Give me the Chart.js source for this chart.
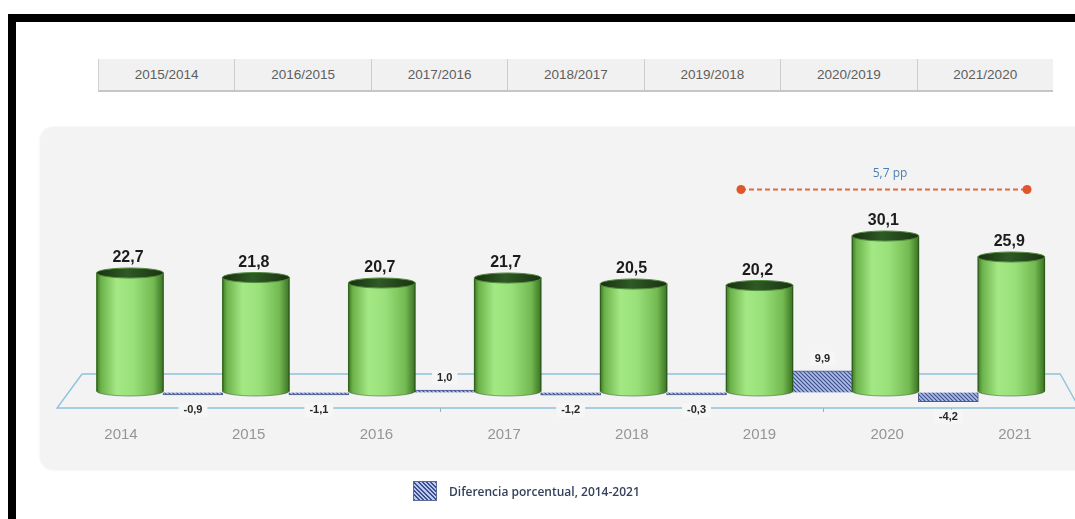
<!DOCTYPE html>
<html><head><meta charset="utf-8">
<script src="https://cdn.jsdelivr.net/npm/chart.js@4.4.1/dist/chart.umd.min.js"></script>
<style>
html,body{margin:0;padding:0;width:1075px;height:519px;overflow:hidden;background:#fff;font-family:"Liberation Sans",Arial,sans-serif;}
#frameTop{position:absolute;left:8px;top:14px;width:1067px;height:8px;background:#000;}
#frameLeft{position:absolute;left:8px;top:14px;width:8px;height:505px;background:#000;}
#hdr{position:absolute;left:98px;top:59px;width:954px;height:31px;display:flex;background:#f1f1f1;border-bottom:2px solid #c6c6c6;border-left:1px solid #d2d2d2;}
.cell{flex:1;text-align:center;line-height:31px;font-size:13.5px;color:#5e5e5e;border-right:1px solid #cdcdcd;}
.cell:last-child{border-right:none;}
#panel{position:absolute;left:40px;top:127px;width:1100px;height:343px;background:#f3f3f3;border-radius:14px;box-shadow:0 0 3px rgba(0,0,0,0.07);}
#cv{position:absolute;left:0;top:0;}
#legend{position:absolute;left:413px;top:481px;height:20px;display:flex;align-items:center;}
#sw{width:22px;height:18px;border:1px solid #5d6a98;background:repeating-linear-gradient(45deg,#3e4f8c 0 1.4px,#b9c8ee 1.4px 3px);}
#lt{margin-left:12px;font-family:"Open Sans",sans-serif;font-size:12px;font-weight:600;color:#34405c;}
</style></head>
<body>
<div id="frameTop"></div><div id="frameLeft"></div>
<div id="hdr"></div>
<div id="panel"></div>
<canvas id="cv" width="1075" height="519"></canvas>
<div id="legend"><div id="sw"></div><div id="lt"></div></div>
<script>
const years = ['2014','2015','2016','2017','2018','2019','2020','2021'];
const values = [22.7,21.8,20.7,21.7,20.5,20.2,30.1,25.9];
const periods = ['2015/2014','2016/2015','2017/2016','2018/2017','2019/2018','2020/2019','2021/2020'];
const diffs = [-0.9,-1.1,1.0,-1.2,-0.3,9.9,-4.2];
const legendLabel = 'Diferencia porcentual, 2014-2021';
const ppLabel = '5,7 pp';
const ppLineX = [4.853, 7.125];
const ppLineY = [39.4, 39.4];
const ppLabelPos = [6.037, 42.6];

const hdr = document.getElementById('hdr');
periods.forEach(p => { const d = document.createElement('div'); d.className = 'cell'; d.textContent = p; hdr.appendChild(d); });
document.getElementById('lt').textContent = legendLabel;

const fmt = v => v.toFixed(1).replace('.', ',');

function hatch() {
  const c = document.createElement('canvas'); c.width = 4; c.height = 4;
  const g = c.getContext('2d');
  g.fillStyle = '#aebfe8'; g.fillRect(0,0,4,4);
  g.strokeStyle = '#3d4e8b'; g.lineWidth = 1.2;
  g.beginPath(); g.moveTo(-1,-1); g.lineTo(5,5); g.moveTo(3,-1); g.lineTo(5,1); g.moveTo(-1,3); g.lineTo(1,5); g.stroke();
  return g.createPattern(c, 'repeat');
}
const ctx0 = document.getElementById('cv').getContext('2d');
const hatchPattern = hatch();

function bodyGradient(ctx, x, w) {
  const g = ctx.createLinearGradient(x - w/2, 0, x + w/2, 0);
  g.addColorStop(0, '#3f7a26');
  g.addColorStop(0.07, '#6db34b');
  g.addColorStop(0.3, '#a3e884');
  g.addColorStop(0.55, '#9ae07a');
  g.addColorStop(0.85, '#74ba52');
  g.addColorStop(1, '#3a7222');
  return g;
}
const CYL_W = 67;

const cylinderPlugin = {
  id: 'cyl',
  beforeDatasetsDraw(chart) {
    const c = chart.ctx, xs = chart.scales.x, x2 = chart.scales.x2, ys = chart.scales.y2;
    const z = ys.getPixelForValue(0);
    const xl = xs.getPixelForValue(-0.5), xr = xs.getPixelForValue(7.5);
    const back = z - 18.5, front = z + 15.5;
    c.save();
    c.strokeStyle = '#8ec3dc'; c.lineWidth = 1.4;
    c.beginPath();
    c.moveTo(xl + 15, back); c.lineTo(xr - 14, back);
    c.lineTo(xr - 14 + 19, front);
    c.moveTo(xl + 15, back); c.lineTo(xl - 10, front);
    c.lineTo(chart.chartArea.right, front);
    c.stroke();
    c.strokeStyle = '#9ab0bc'; c.lineWidth = 1;
    c.beginPath();
    for (let i = 0; i < diffs.length; i++) {
      const px = Math.round(x2.getPixelForValue(i + 0.5)) + 0.5;
      c.moveTo(px, front); c.lineTo(px, front + 4);
    }
    c.stroke();
    c.restore();
  },
  afterDatasetDraw(chart, args) {
    if (args.index !== 0) return;
    const c = chart.ctx;
    c.save();
    args.meta.data.forEach(el => {
      const w = el.width, x = el.x, ry = 5;
      c.beginPath(); c.ellipse(x, el.base, w/2, ry, 0, 0, Math.PI);
      c.fillStyle = bodyGradient(c, x, w); c.fill();
      c.strokeStyle = 'rgba(40,80,25,0.5)'; c.lineWidth = 1; c.stroke();
      c.beginPath(); c.moveTo(x - w/2 + 0.5, el.y); c.lineTo(x - w/2 + 0.5, el.base);
      c.moveTo(x + w/2 - 0.5, el.y); c.lineTo(x + w/2 - 0.5, el.base);
      c.strokeStyle = 'rgba(30,70,20,0.6)'; c.stroke();
      const g = c.createLinearGradient(x - w/2, 0, x + w/2, 0);
      g.addColorStop(0, '#182f0f'); g.addColorStop(0.45, '#2f5a26'); g.addColorStop(1, '#1a3311');
      c.beginPath(); c.ellipse(x, el.y, w/2, ry, 0, 0, Math.PI * 2);
      c.fillStyle = g; c.fill();
      c.strokeStyle = '#4f8a3a'; c.lineWidth = 1; c.stroke();
    });
    c.restore();
  },
  afterDatasetsDraw(chart) {
    const c = chart.ctx;
    c.save();
    c.textAlign = 'center'; c.textBaseline = 'middle';
    c.font = 'bold 16px "Liberation Sans", Arial, sans-serif';
    c.fillStyle = '#1c1c1c';
    chart.getDatasetMeta(0).data.forEach((el, i) => c.fillText(fmt(values[i]), el.x - 2, el.y - 15));
    c.font = 'bold 11px "Liberation Sans", Arial, sans-serif';
    chart.getDatasetMeta(1).data.forEach((el, i) => {
      const v = diffs[i];
      const ty = v >= 0 ? Math.min(el.y, el.base) - 12 : Math.max(el.y, el.base) + 15;
      const t = fmt(v), tw = c.measureText(t).width;
      c.fillStyle = '#f6f6f6';
      c.fillRect(el.x - tw/2 - 5, ty - 7, tw + 10, 14);
      c.fillStyle = '#262626';
      c.fillText(t, el.x, ty);
    });
    c.font = '12px "Open Sans", sans-serif';
    c.fillStyle = '#4d7fb5';
    c.fillText(ppLabel, chart.scales.x.getPixelForValue(ppLabelPos[0]), chart.scales.y.getPixelForValue(ppLabelPos[1]));
    c.restore();
  }
};

new Chart(ctx0, {
  type: 'bar',
  data: {
    datasets: [
      {
        label: 'valor', data: years.map((y, i) => ({x: i, y: values[i]})),
        xAxisID: 'x', yAxisID: 'y', grouped: false, barThickness: CYL_W, borderWidth: 0, base: -0.9,
        backgroundColor: (cx) => {
          const ch = cx.chart; if (!ch.chartArea || !cx.parsed) return '#8fd86a';
          return bodyGradient(ch.ctx, ch.scales.x.getPixelForValue(cx.parsed.x), CYL_W);
        }
      },
      {
        label: legendLabel, data: diffs.map((d, i) => ({x: i + 0.5, y: d})),
        xAxisID: 'x', yAxisID: 'y2', grouped: false, barThickness: 60, minBarLength: 2.5,
        backgroundColor: hatchPattern, borderColor: '#4d5c94', borderWidth: 1
      },
      {
        type: 'line', label: 'pp', data: ppLineX.map((x, i) => ({x, y: ppLineY[i]})),
        xAxisID: 'x', yAxisID: 'y', borderColor: '#e5673b', borderWidth: 1.8, borderDash: [5, 3],
        pointRadius: 4.5, pointBackgroundColor: '#e0562b', pointBorderWidth: 0, fill: false
      }
    ]
  },
  options: {
    responsive: false, animation: false, devicePixelRatio: 1,
    layout: { autoPadding: false, padding: { top: 140, bottom: 72, left: 40, right: 0 } },
    plugins: { legend: { display: false }, tooltip: { enabled: false } },
    scales: {
      x: { type: 'linear', display: false, offset: false, min: -0.7149, max: 7.506 },
      x2: {
        type: 'linear', position: 'bottom', offset: false, min: -0.6343, max: 7.4706,
        grid: { display: false, drawTicks: false, offset: false }, border: { display: false },
        afterBuildTicks: (ax) => { ax.ticks = years.map((y, i) => ({ value: i })); },
        ticks: { autoSkip: false, maxRotation: 0, padding: 3, color: '#959595',
          font: { size: 15, family: '"Liberation Sans", Arial, sans-serif' },
          callback: (v) => years[v] !== undefined ? years[v] : '' }
      },
      y: { display: false, min: -7.3, max: 49.3 },
      y2: { display: false, min: -13.86, max: 114.77 }
    }
  },
  plugins: [cylinderPlugin]
});
</script>
</body></html>
